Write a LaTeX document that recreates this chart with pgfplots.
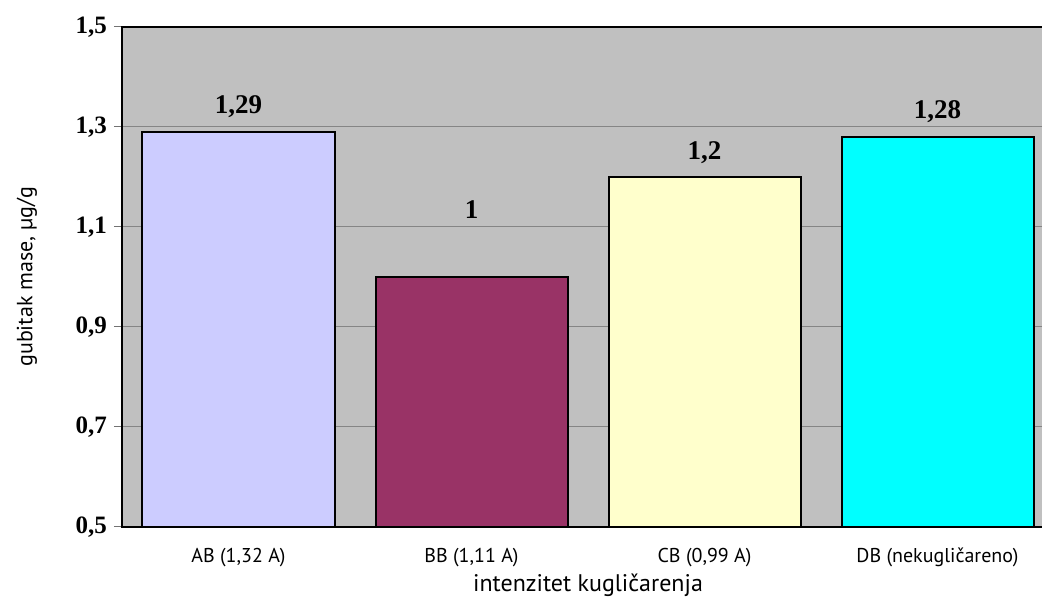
\documentclass[border=0pt]{standalone}
\usepackage{fontspec}
\setmainfont{Liberation Serif}
\newfontfamily\labelfont{PT Sans}
\usepackage{pgfplots}
\pgfplotsset{compat=1.18}
\definecolor{bgc}{HTML}{C0C0C0}
\definecolor{gridc}{HTML}{858585}
\definecolor{cAB}{HTML}{CCCCFF}
\definecolor{cBB}{HTML}{993366}
\definecolor{cCB}{HTML}{FFFFCC}
\definecolor{cDB}{HTML}{00FFFF}
\begin{document}
\begin{tikzpicture}
\useasboundingbox (-61pt,-37.65pt) rectangle (460pt,263.35pt);
\clip (-61pt,-37.65pt) rectangle (460pt,263.35pt);
\begin{axis}[
  scale only axis, width=466pt, height=250pt, at={(0,0)}, anchor=south west,
  xmin=-0.5, xmax=3.5, ymin=0.5, ymax=1.5,
  axis background/.style={fill=bgc},
  axis line style={black, line width=0.8pt},
  ytick={0.5,0.7,0.9,1.1,1.3,1.5},
  yticklabels={{0,5},{0,7},{0,9},{1,1},{1,3},{1,5}},
  ymajorgrids, grid style={gridc, line width=0.6pt},
  xtick={0,1,2,3},
  xticklabels={{AB (1,32 A)},{BB (1,11 A)},{CB (0,99 A)},{DB (nekugličareno)}},
  minor xtick={-0.5,0.5,1.5,2.5,3.5},
  tick align=outside,
  major tick length=4pt,
  minor tick length=4pt,
  xtick style={draw=none},
  minor tick style={black!55, line width=0.5pt},
  ytick style={black!55, line width=0.5pt},
  yticklabel style={font=\fontsize{12.5}{14}\selectfont\bfseries},
  xticklabel style={font=\labelfont\fontsize{10}{12}\selectfont, yshift=-3pt},
  xlabel={intenzitet kugličarenja},
  ylabel={gubitak mase, µg/g},
  every axis x label/.style={at={(axis description cs:0.5,0)}, yshift=-29.5pt, anchor=center, font=\labelfont\fontsize{12}{14}\selectfont},
  every axis y label/.style={at={(axis description cs:0,0.5)}, xshift=-47.5pt, rotate=90, anchor=center, font=\labelfont\fontsize{11}{13}\selectfont},
]
\addplot[ybar, bar width=96pt, bar shift=0pt, fill=cAB, draw=black, line width=1pt] coordinates {(0,1.29)};
\addplot[ybar, bar width=96pt, bar shift=0pt, fill=cBB, draw=black, line width=1pt] coordinates {(1,1.00)};
\addplot[ybar, bar width=96pt, bar shift=0pt, fill=cCB, draw=black, line width=1pt] coordinates {(2,1.20)};
\addplot[ybar, bar width=96pt, bar shift=0pt, fill=cDB, draw=black, line width=1pt] coordinates {(3,1.28)};
\addplot[draw=none, mark=none, nodes near coords, point meta=explicit symbolic,
  nodes near coords align={center},
  every node near coord/.style={anchor=base, inner sep=0pt, font=\fontsize{13.5}{15}\selectfont\bfseries}]
  coordinates {(0,1.327)[{1,29}] (1,1.117)[{1}] (2,1.235)[{1,2}] (3,1.317)[{1,28}]};
\end{axis}
\end{tikzpicture}
\end{document}
